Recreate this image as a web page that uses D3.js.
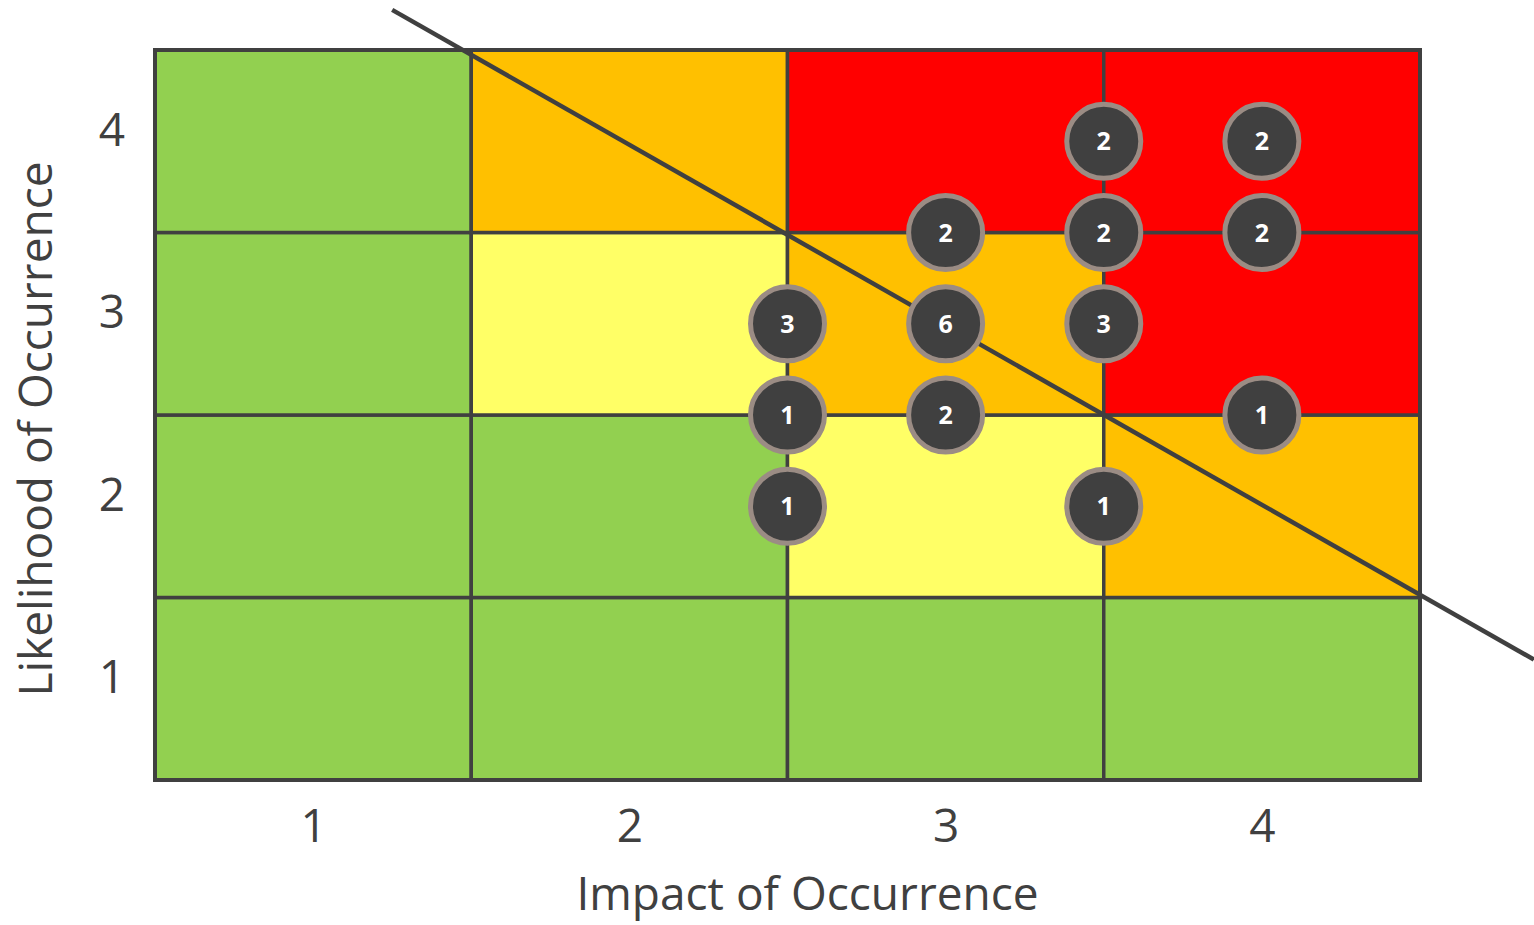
<!DOCTYPE html>
<html>
<head>
<meta charset="utf-8">
<script src="https://cdn.jsdelivr.net/npm/d3@7"></script>
<style>
  html, body { margin: 0; padding: 0; background: #ffffff; }
  svg { display: block; }
  text { font-family: "Open Sans", "Noto Sans", sans-serif; }
</style>
</head>
<body>
<svg id="chart" width="1534" height="925"></svg>
<script>
// Axis categories
const impactLevels = [1, 2, 3, 4];
const likelihoodLevels = [1, 2, 3, 4];

// Risk zone of each cell, rows listed from likelihood 1 up to 4, columns impact 1..4
const zoneRow1 = ["low", "low", "low", "low"];
const zoneRow2 = ["low", "low", "medium", "high"];
const zoneRow3 = ["low", "medium", "high", "extreme"];
const zoneRow4 = ["low", "high", "extreme", "extreme"];
const zoneRows = [zoneRow1, zoneRow2, zoneRow3, zoneRow4];

const zoneColors = { low: "#92D050", medium: "#FFFF66", high: "#FFC000", extreme: "#FF0000" };

// Risk counts placed on the matrix
const riskImpact     = [2.5, 2.5, 2.5, 3, 3, 3, 3.5, 3.5, 3.5, 3.5, 4, 4, 4];
const riskLikelihood = [3, 2.5, 2, 3.5, 3, 2.5, 4, 3.5, 3, 2, 4, 3.5, 2.5];
const riskCount      = [3, 1, 1, 2, 6, 2, 2, 2, 3, 1, 2, 2, 1];

// Tolerance boundary line endpoints (impact, likelihood)
const boundaryImpact = [1.25, 4.86];
const boundaryLikelihood = [4.72, 1.16];

const svg = d3.select("#chart");
const plotLeft = 155, plotRight = 1420, plotTop = 50, plotBottom = 780;

const x = d3.scaleLinear().domain([0.5, 4.5]).range([plotLeft, plotRight]);
const y = d3.scaleLinear().domain([0.5, 4.5]).range([plotBottom, plotTop]);

const gridColor = "#404040";

// Cells
const cells = [];
zoneRows.forEach((row, ri) => row.forEach((z, ci) => {
  cells.push({ impact: impactLevels[ci], likelihood: likelihoodLevels[ri], zone: z });
}));

svg.append("g").selectAll("rect").data(cells).join("rect")
  .attr("x", d => x(d.impact - 0.5))
  .attr("y", d => y(d.likelihood + 0.5))
  .attr("width", d => x(d.impact + 0.5) - x(d.impact - 0.5))
  .attr("height", d => y(d.likelihood - 0.5) - y(d.likelihood + 0.5))
  .attr("fill", d => zoneColors[d.zone])
  .attr("stroke", gridColor)
  .attr("stroke-width", 3.5);

// Outer frame
svg.append("rect")
  .attr("x", x(0.5)).attr("y", y(4.5))
  .attr("width", x(4.5) - x(0.5)).attr("height", y(0.5) - y(4.5))
  .attr("fill", "none").attr("stroke", gridColor).attr("stroke-width", 4);

// Boundary line
svg.append("line")
  .attr("x1", x(boundaryImpact[0])).attr("y1", y(boundaryLikelihood[0]))
  .attr("x2", x(boundaryImpact[1])).attr("y2", y(boundaryLikelihood[1]))
  .attr("stroke", gridColor).attr("stroke-width", 4.5);

// Axes (labels only)
const xAxis = d3.axisBottom(x).tickValues(impactLevels).tickSize(0).tickPadding(0).tickFormat(d3.format("d"));
const gx = svg.append("g").attr("transform", `translate(0,${plotBottom + 62})`).call(xAxis);
gx.select(".domain").remove();
gx.selectAll("text").attr("font-size", 46).attr("fill", "#404040")
  .attr("font-family", '"Open Sans", sans-serif').attr("dy", "0");

const yAxis = d3.axisLeft(y).tickValues(likelihoodLevels).tickSize(0).tickPadding(0).tickFormat(d3.format("d"));
const gy = svg.append("g").attr("transform", `translate(${plotLeft - 30},-12)`).call(yAxis);
gy.select(".domain").remove();
gy.selectAll("text").attr("font-size", 46).attr("fill", "#404040")
  .attr("font-family", '"Open Sans", sans-serif').attr("dy", "0.35em");

// Axis titles
svg.append("text")
  .attr("x", (plotLeft + plotRight) / 2 + 20).attr("y", 910)
  .attr("text-anchor", "middle").attr("font-size", 46).attr("fill", "#404040")
  .text("Impact of Occurrence");

svg.append("text")
  .attr("transform", `translate(52,${(plotTop + plotBottom) / 2 + 14}) rotate(-90)`)
  .attr("text-anchor", "middle").attr("font-size", 46).attr("fill", "#404040")
  .text("Likelihood of Occurrence");

// Risk markers
const risks = riskCount.map((c, i) => ({ impact: riskImpact[i], likelihood: riskLikelihood[i], count: c }));
const gm = svg.append("g").selectAll("g").data(risks).join("g")
  .attr("transform", d => `translate(${x(d.impact)},${y(d.likelihood)})`);
gm.append("circle").attr("r", 37).attr("fill", "#404040")
  .attr("stroke", "#9B8C84").attr("stroke-width", 5);
gm.append("text").attr("text-anchor", "middle").attr("dy", "0.36em")
  .attr("font-size", 25).attr("font-weight", "bold").attr("fill", "#ffffff")
  .text(d => d.count);
</script>
</body>
</html>
